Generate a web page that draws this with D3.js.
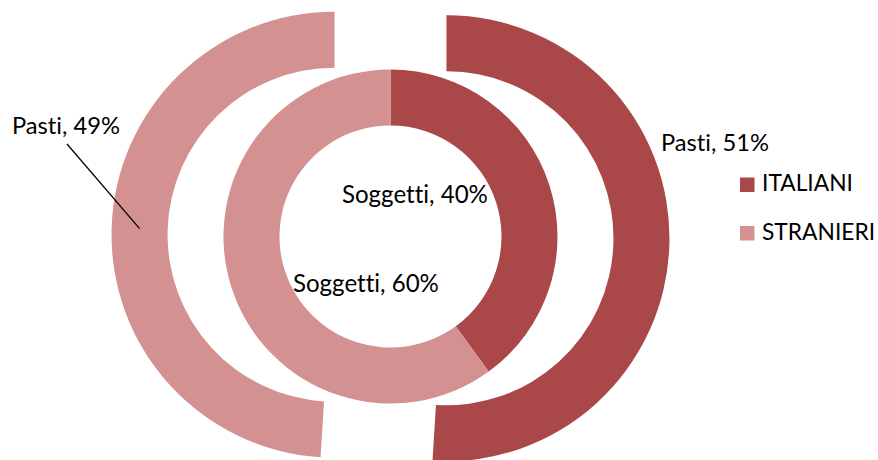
<!DOCTYPE html>
<html>
<head>
<meta charset="utf-8">
<script src="https://cdn.jsdelivr.net/npm/d3@7"></script>
<style>
  html, body { margin: 0; padding: 0; background: #ffffff; }
  svg { display: block; }
  text { font-family: Lato, "Open Sans", "Liberation Sans", sans-serif; fill: #000;
         font-variant-ligatures: none; font-feature-settings: "liga" 0, "clig" 0; }
</style>
</head>
<body>
<svg id="chart" width="878" height="460"></svg>
<script>
// ---- data ----
const rings = ["Soggetti", "Pasti"];          // inner ring, outer ring
const groups = ["ITALIANI", "STRANIERI"];
const italiani = [40, 51];                     // % per ring
const stranieri = [60, 49];                    // % per ring
const colors = ["#AA4748", "#D39191"];

// ---- layout ----
const W = 878, H = 460;
const cx = 390.5, cy = 236.5;
const hole = 111, ringW = 56;
const explode = [0, 56];                        // explosion distance per ring
// label anchor positions (left x, baseline y) per ring, per group
const labelPos = [
  [[342, 203], [293, 292]],
  [[661, 151], [12, 134]]
];
const labelWidth = [146, 108];

const svg = d3.select("#chart");
const color = d3.scaleOrdinal().domain(groups).range(colors);
const pie = d3.pie().sort(null).value(d => d.value);

const root = svg.append("g").attr("transform", `translate(${cx},${cy})`);

function fitText(sel, target) {
  const base = 20;
  sel.style("font-size", base + "px");
  const w = sel.node().getComputedTextLength();
  const size = base * target / w;
  sel.style("font-size", size + "px");
  return size;
}

rings.forEach((ring, ri) => {
  const data = groups.map((g, gi) => ({ group: g, value: gi === 0 ? italiani[ri] : stranieri[ri] }));
  const arcs = pie(data);
  const inner = hole + ri * ringW, outer = inner + ringW;
  const arc = d3.arc().innerRadius(inner).outerRadius(outer);
  arcs.forEach((a, gi) => {
    const mid = (a.startAngle + a.endAngle) / 2;
    const dx = explode[ri] * Math.sin(mid), dy = -explode[ri] * Math.cos(mid);
    root.append("path")
      .attr("d", arc(a))
      .attr("transform", `translate(${dx},${dy})`)
      .attr("fill", color(a.data.group));

    const [lx, ly] = labelPos[ri][gi];
    const t = svg.append("text")
      .attr("x", lx).attr("y", ly)
      .text(`${ring}, ${a.data.value}%`);
    fitText(t, labelWidth[ri]);

    // leader line for outer STRANIERI label
    if (ri === 1 && gi === 1) {
      const c = arc.centroid(a);
      svg.append("line")
        .attr("x1", 67).attr("y1", 144)
        .attr("x2", cx + c[0] + dx).attr("y2", cy + c[1] + dy)
        .attr("stroke", "#000").attr("stroke-width", 1.3);
    }
  });
});

// ---- legend ----
const legend = svg.append("g");
const legendY = [177.5, 226];
let legendSize = null;
groups.forEach((g, i) => {
  legend.append("rect")
    .attr("x", 740).attr("y", legendY[i])
    .attr("width", 14.5).attr("height", 14.5)
    .attr("fill", color(g));
  const t = legend.append("text")
    .attr("x", 762).attr("y", legendY[i] + 13.5)
    .text(g);
  if (legendSize === null) legendSize = fitText(t, 91);
  else t.style("font-size", legendSize + "px");
});
</script>
</body>
</html>
